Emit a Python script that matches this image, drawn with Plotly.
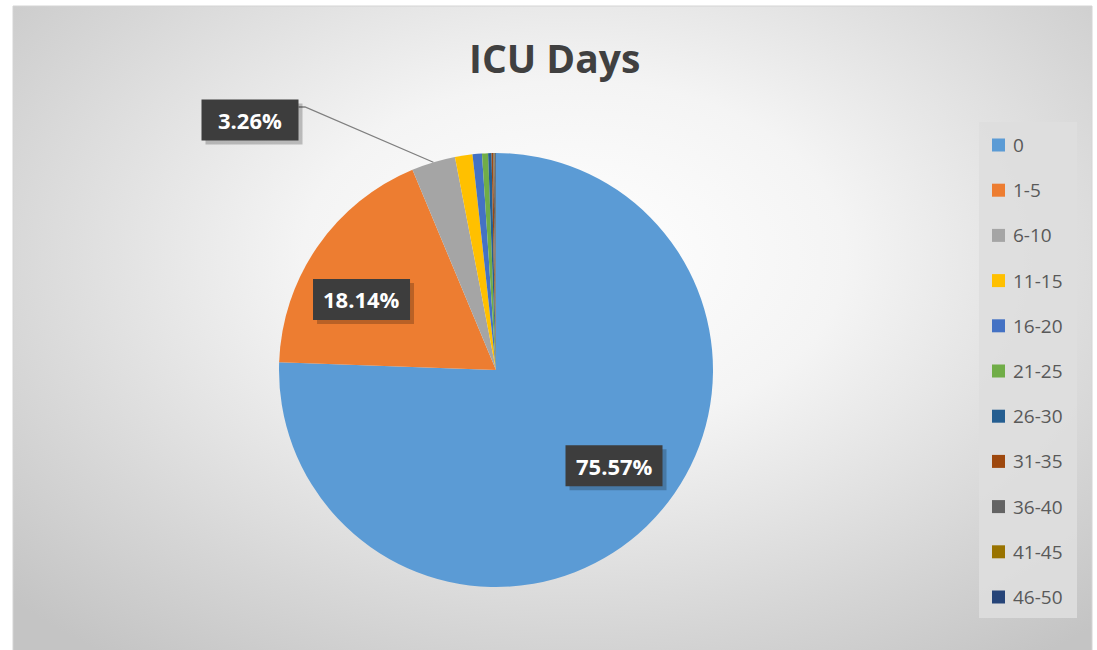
import math
import base64
import plotly.graph_objects as go

# ---------------- data ----------------
categories = ["0", "1-5", "6-10", "11-15", "16-20", "21-25", "26-30",
              "31-35", "36-40", "41-45", "46-50"]
shares = [75.57, 18.14, 3.26, 1.30, 0.70, 0.45, 0.25, 0.13, 0.10, 0.05, 0.05]
colors = ["#5B9BD5", "#ED7D31", "#A5A5A5", "#FFC000", "#4472C4", "#70AD47",
          "#255E91", "#9E480E", "#636363", "#997300", "#264478"]
inside_labels = ["0", "1-5"]      # labels drawn on the slice
outside_labels = ["6-10"]         # label drawn outside with leader line
title_text = "ICU Days"

# ---------------- geometry (pixels) ----------------
W, H = 1097, 650
CX, CY, R = 496, 370, 217


def px(x):
    return x / W


def py(y):
    return 1 - y / H


fig = go.Figure()
fig.add_trace(go.Pie(
    labels=categories,
    values=shares,
    marker=dict(colors=colors, line=dict(width=0)),
    sort=False,
    direction="clockwise",
    rotation=0,
    textinfo="none",
    hoverinfo="label+percent",
    showlegend=False,
    domain=dict(x=[px(CX - R), px(CX + R)], y=[py(CY + R), py(CY - R)]),
))

# background gradient (chart area)
svg = (
    "<svg xmlns='http://www.w3.org/2000/svg' width='1079' height='700'>"
    "<defs><radialGradient id='g' cx='0.52' cy='0.36' r='0.72'>"
    "<stop offset='0' stop-color='#ffffff'/>"
    "<stop offset='0.35' stop-color='#f4f4f4'/>"
    "<stop offset='0.75' stop-color='#d6d6d6'/>"
    "<stop offset='1' stop-color='#c4c4c4'/>"
    "</radialGradient></defs>"
    "<rect width='1079' height='700' fill='url(#g)'/></svg>"
)
src = "data:image/svg+xml;base64," + base64.b64encode(svg.encode()).decode()

images = [dict(source=src, xref="paper", yref="paper", x=px(13), y=py(6),
               sizex=(1092 - 13) / W, sizey=(700 - 6) / H, sizing="stretch",
               xanchor="left", yanchor="top", layer="below")]

shapes = [dict(type="rect", xref="paper", yref="paper",
               x0=px(13), x1=px(1092), y0=py(6), y1=py(700),
               line=dict(color="#d4d4d4", width=1), fillcolor="rgba(0,0,0,0)",
               layer="below")]
annotations = []

total = sum(shares)
cum = 0.0
mids = {}
for cat, v in zip(categories, shares):
    mids[cat] = (cum + v / 2) / total * 2 * math.pi
    cum += v

BOX_W, BOX_H = 97, 41
label_font = dict(family="Open Sans, sans-serif", size=22, color="white")


def add_label(xc, yc, text):
    x0, x1 = xc - BOX_W / 2, xc + BOX_W / 2
    y0, y1 = yc - BOX_H / 2, yc + BOX_H / 2
    shapes.append(dict(type="rect", xref="paper", yref="paper",
                       x0=px(x0 + 4), x1=px(x1 + 4), y0=py(y1 + 4), y1=py(y0 + 4),
                       line=dict(width=0), fillcolor="rgba(0,0,0,0.22)"))
    shapes.append(dict(type="rect", xref="paper", yref="paper",
                       x0=px(x0), x1=px(x1), y0=py(y1), y1=py(y0),
                       line=dict(width=0), fillcolor="#3d3d3d"))
    annotations.append(dict(
        x=px(xc), y=py(yc), xref="paper", yref="paper",
        text="<b>" + text + "</b>", showarrow=False,
        font=label_font, xanchor="center", yanchor="middle"))


LABEL_R = 0.70
LABEL_ROT = math.radians(-7)
for cat in inside_labels:
    i = categories.index(cat)
    a = mids[cat] + LABEL_ROT
    rr = LABEL_R * R
    add_label(CX + rr * math.sin(a), CY - rr * math.cos(a),
              f"{shares[i] / total * 100:.2f}%")

for cat in outside_labels:
    i = categories.index(cat)
    a = mids[cat]
    ex, ey = CX + R * math.sin(a), CY - R * math.cos(a)
    bx, by = 250, 120
    shapes.append(dict(
        type="path", xref="paper", yref="paper",
        path=f"M {px(ex)} {py(ey)} L {px(bx + 55)} {py(by - 13)} L {px(bx + BOX_W / 2)} {py(by - 13)}",
        line=dict(color="#7f7f7f", width=1.3)))
    add_label(bx, by, f"{shares[i] / total * 100:.2f}%")

# title
annotations.append(dict(
    x=px(554), y=py(57), xref="paper", yref="paper", showarrow=False,
    text="<b>" + title_text + "</b>", xanchor="center", yanchor="middle",
    font=dict(family="Open Sans, sans-serif", size=39, color="#404040")))

# legend (manual, for exact row spacing)
shapes.append(dict(type="rect", xref="paper", yref="paper",
                   x0=px(979), x1=px(1077), y0=py(618), y1=py(122),
                   line=dict(width=0), fillcolor="rgba(222,222,222,0.9)"))
for k, (cat, c) in enumerate(zip(categories, colors)):
    yc = 145 + k * 45.2
    shapes.append(dict(type="rect", xref="paper", yref="paper",
                       x0=px(992), x1=px(1005), y0=py(yc + 6.5), y1=py(yc - 6.5),
                       line=dict(width=0), fillcolor=c))
    annotations.append(dict(
        x=px(1011), y=py(yc), xref="paper", yref="paper", showarrow=False,
        text=cat, xanchor="left", yanchor="middle",
        font=dict(family="Open Sans, sans-serif", size=19, color="#595959")))

fig.update_layout(
    width=W, height=H,
    margin=dict(l=0, r=0, t=0, b=0),
    paper_bgcolor="white",
    plot_bgcolor="white",
    images=images,
    shapes=shapes,
    annotations=annotations,
)

fig.write_html(
    "out.html",
    config={"displayModeBar": False},
    post_script="document.body.style.margin='0';document.body.style.overflow='hidden';",
)
